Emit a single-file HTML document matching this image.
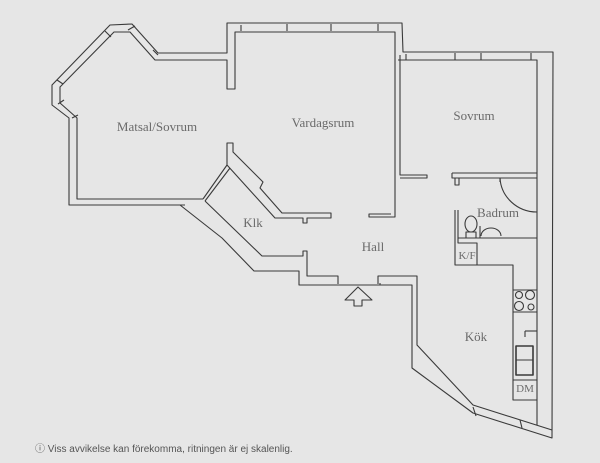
<!DOCTYPE html>
<html><head><meta charset="utf-8"><style>
html,body{margin:0;padding:0;background:#e6e6e6;}
svg{display:block}
text{font-family:"Liberation Serif",serif;fill:#6a6a6a;font-size:13px}
</style></head><body>
<svg width="600" height="463" viewBox="0 0 600 463" xmlns="http://www.w3.org/2000/svg">
<rect width="600" height="463" fill="#e6e6e6"/>
<g fill="none" stroke="#3a3a3a" stroke-width="1.1" stroke-linejoin="round">
<!-- Matsal outer -->
<polyline points="185,205 69,205 69,118 52,105 52,85 110,25 132,24 158,53 227,53 227,23 402,23 403,52 553,52 552,438 473,413 412,368 412,285 380,285"/>
<!-- Matsal inner -->
<polyline points="203,199 77,199 77,118 60,103 60,87 114,32 130,32 155,60 227,60 227,89 235,89 235,32 395,32 395,217 369,217 369,214 391,214"/>
<!-- window ticks -->
<line x1="105" y1="31" x2="111" y2="37"/><line x1="57" y1="80" x2="63" y2="84"/><line x1="128" y1="30" x2="135" y2="26"/><line x1="153" y1="50" x2="158" y2="55"/><line x1="58" y1="104" x2="64" y2="100"/><line x1="72" y1="118" x2="78" y2="115"/>
<line x1="241" y1="25" x2="241" y2="31"/><line x1="287" y1="24" x2="287" y2="31"/><line x1="331" y1="24" x2="331" y2="31"/><line x1="378" y1="24" x2="378" y2="31"/>
<line x1="406" y1="54" x2="406" y2="60"/><line x1="455" y1="53" x2="455" y2="60"/><line x1="481" y1="53" x2="481" y2="60"/><line x1="531" y1="53" x2="531" y2="60"/>
<!-- Sovrum -->
<polyline points="400,55 400,175 427,175 427,178 400,178"/>
<polyline points="398,60 537,60 537,425"/>
<polyline points="452,173 537,173"/><polyline points="452,173 452,178 537,178"/>
<polyline points="455,178 455,185 459,185 459,178"/>
<!-- Vardagsrum lower-left -->
<polyline points="227,165 227,143 233,143 233,152 263,182 260,188 282,213 331,213 331,218 307,218 307,223 303,223 303,218 275,218 227,165"/>
<!-- Matsal/Klk partition -->
<polyline points="227,165 203,199"/><polyline points="230,168 205,201"/>
<!-- Klk lower -->
<polyline points="180,205 222,238 254,271 299,271 299,285 380,285 380,283"/>
<polyline points="205,201 262,256 303,256 303,251 307,251 307,276 338,276 338,284"/>
<polyline points="378,284 378,276 417,276 417,345 473,405 552,430"/>
<line x1="473" y1="407" x2="476" y2="416"/><line x1="520" y1="420" x2="522" y2="428"/>
<!-- Arrow -->
<polygon points="358,287 345,300 354,300 354,306 362,306 362,300 372,300"/>
<!-- Badrum -->
<polyline points="455,210 455,265 477,265 477,243 458,243 458,210"/>
<line x1="458" y1="238" x2="537" y2="238"/>
<path d="M500,178 A37,36 0 0 0 537,212"/>
<line x1="500" y1="178" x2="500" y2="182"/>
<ellipse cx="471" cy="224" rx="6" ry="8"/><rect x="466" y="232" width="10" height="6"/>
<path d="M481,236 A10,8 0 0 1 501,236"/><line x1="480" y1="226" x2="480" y2="238"/>
<!-- Kitchen -->
<polyline points="455,265 513,265 513,400 537,400"/>
<line x1="513" y1="290" x2="537" y2="290"/><line x1="513" y1="312" x2="537" y2="312"/>
<circle cx="519" cy="295" r="3.5"/><circle cx="530" cy="295" r="4.5"/><circle cx="519" cy="306" r="4.5"/><circle cx="531" cy="307" r="3"/>
<line x1="525" y1="331" x2="537" y2="331"/><line x1="525" y1="331" x2="525" y2="337"/>
<rect x="516" y="346" width="17" height="29" stroke-width="1.6"/><line x1="516" y1="360" x2="533" y2="360"/>
<line x1="513" y1="380" x2="537" y2="380"/>
</g>
<text x="157" y="131" text-anchor="middle">Matsal/Sovrum</text>
<text x="323" y="127" text-anchor="middle">Vardagsrum</text>
<text x="474" y="120" text-anchor="middle">Sovrum</text>
<text x="253" y="227" text-anchor="middle">Klk</text>
<text x="373" y="251" text-anchor="middle">Hall</text>
<text x="498" y="217" text-anchor="middle">Badrum</text>
<text x="467" y="259" text-anchor="middle" style="font-size:11px">K/F</text>
<text x="476" y="341" text-anchor="middle">Kök</text>
<text x="525" y="392" text-anchor="middle" style="font-size:11px">DM</text>
<text x="35" y="452" style="font-family:'Liberation Sans',sans-serif;font-size:10px;fill:#555">ⓘ Viss avvikelse kan förekomma, ritningen är ej skalenlig.</text>
</svg>
</body></html>
